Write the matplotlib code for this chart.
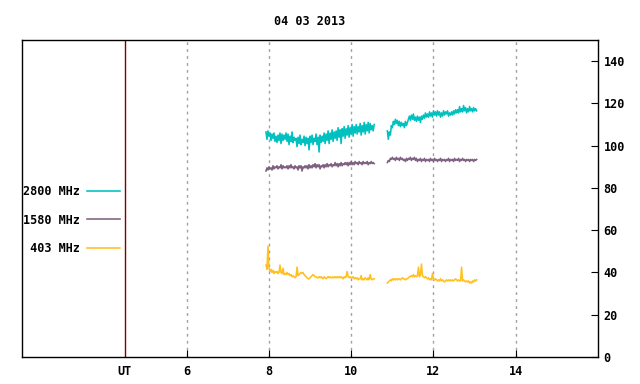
import numpy as np
import matplotlib
matplotlib.use("Agg")
import matplotlib.pyplot as plt

plt.rcParams['font.family'] = ['DejaVu Sans Mono']
plt.rcParams['font.weight'] = 'bold'

title = "04 03 2013"
# time ranges of the two recording blocks (UT hours)
seg1_t = (7.93, 10.56)
seg2_t = (10.88, 13.05)

f2800_a = [106.5, 103.0, 107.0, 104.5, 106.0, 102.5, 105.5, 103.5, 106.0, 102.0,
           104.5, 101.5, 105.0, 102.5, 106.0, 101.0, 105.5, 102.5, 105.0, 103.0,
           106.0, 102.0, 105.5, 100.5, 104.5, 102.0, 106.5, 101.5, 104.0, 102.5,
           103.5, 99.5, 104.0, 101.0, 105.0, 100.5, 103.0, 101.5, 104.5, 100.0,
           104.0, 101.0, 103.5, 98.0, 104.5, 101.5, 105.0, 100.5, 103.5, 102.0,
           105.5, 100.5, 104.0, 97.0, 105.0, 101.5, 104.5, 102.0, 106.0, 101.0,
           105.5, 102.5, 107.0, 101.0, 106.0, 103.0, 107.5, 102.0, 106.5, 103.5,
           107.0, 102.5, 108.5, 104.0, 107.5, 101.0, 108.0, 104.5, 109.0, 103.5,
           108.0, 105.0, 109.5, 104.0, 108.5, 105.5, 110.0, 104.5, 109.0, 106.0,
           110.0, 105.5, 109.0, 106.5, 110.5, 105.0, 109.5, 106.5, 111.0, 105.5,
           110.0, 107.0, 111.0, 106.0, 110.5, 107.5, 109.5, 107.0, 110.0]
f2800_b = [107.0, 103.0, 106.5, 105.0, 109.5, 108.5, 111.5, 110.0, 112.5, 110.5,
           112.0, 109.5, 111.5, 109.0, 111.0, 109.5, 110.5, 108.5, 111.5, 109.5,
           111.0, 112.5, 114.0, 112.0, 114.5, 112.5, 115.0, 112.0, 113.5, 111.5,
           114.0, 112.0, 113.5, 111.0, 114.0, 112.5, 114.5, 113.0, 115.5, 113.5,
           115.0, 113.5, 116.0, 114.0, 115.5, 113.5, 116.5, 114.5, 116.0, 114.0,
           116.5, 114.5, 116.0, 113.5, 115.5, 114.0, 116.5, 114.5, 116.0, 115.0,
           116.5, 114.0, 115.5, 114.5, 116.0, 114.5, 116.5, 115.0, 117.0, 115.5,
           117.0, 115.5, 118.5, 116.0, 117.5, 116.0, 119.0, 116.5, 118.0, 115.5,
           117.5, 116.0, 118.5, 116.5, 117.5, 116.0, 118.0, 116.5, 117.5, 116.5]

f1580_a = [88.0, 89.5, 88.5, 90.0, 89.0, 89.5, 88.5, 90.5, 89.0, 90.0,
           89.5, 90.5, 89.0, 90.0, 89.5, 91.0, 89.0, 90.5, 89.5, 90.0,
           89.5, 90.5, 89.0, 90.5, 89.5, 91.0, 89.5, 90.0, 89.0, 90.5,
           89.5, 90.0, 88.5, 90.5, 89.5, 90.5, 88.0, 90.0, 89.5, 90.5,
           89.5, 90.5, 89.0, 91.0, 89.5, 90.5, 89.5, 91.0, 90.0, 91.5,
           89.5, 91.0, 90.0, 91.0, 89.0, 90.5, 90.0, 91.0, 89.5, 91.0,
           90.0, 91.5, 90.0, 91.0, 90.5, 91.5, 90.0, 91.0, 90.5, 92.0,
           90.5, 91.5, 90.0, 91.5, 90.5, 92.0, 90.5, 91.5, 91.0, 92.0,
           91.0, 92.0, 90.5, 92.0, 91.0, 92.5, 91.0, 92.0, 91.0, 92.5,
           91.5, 92.0, 91.0, 92.5, 91.5, 92.0, 91.0, 92.5, 91.5, 92.0,
           91.5, 92.5, 91.0, 92.0, 91.5, 92.5, 91.5, 92.0, 91.5]
f1580_b = [92.0, 93.0, 92.5, 94.0, 93.5, 94.5, 93.5, 94.0, 93.0, 94.5,
           93.5, 94.0, 93.0, 94.5, 93.5, 94.0, 93.0, 93.5, 92.5, 94.0,
           93.0, 94.0, 93.5, 94.5, 93.0, 94.0, 93.5, 94.5, 93.0, 94.0,
           92.5, 93.5, 93.0, 94.0, 92.5, 93.5, 93.0, 94.0, 92.5, 93.5,
           93.0, 93.5, 92.5, 94.0, 93.0, 93.5, 92.5, 94.0, 93.0, 93.5,
           92.5, 93.5, 93.0, 94.0, 92.5, 93.5, 93.0, 93.5, 92.5, 93.5,
           93.0, 94.0, 92.5, 93.5, 93.0, 93.5, 92.5, 94.0, 93.0, 93.5,
           93.0, 94.0, 92.5, 93.5, 93.0, 94.0, 93.0, 93.5, 92.5, 93.5,
           93.0, 93.5, 92.5, 93.5, 93.0, 93.5, 92.5, 93.5, 93.0, 93.5]

f403_a = [43.5, 41.5, 52.5, 42.0, 40.5, 41.5, 40.0, 41.0, 39.5, 40.5,
          40.0, 40.5, 39.5, 40.0, 43.5, 40.0, 39.5, 42.0, 39.0, 39.5,
          39.0, 40.0, 39.0, 39.5, 38.5, 39.0, 38.0, 38.5, 38.0, 37.5,
          38.0, 42.5, 38.5, 39.0, 39.5, 40.0, 39.5, 40.0, 39.0, 38.5,
          38.0, 37.5, 37.0, 37.0, 37.5, 38.0, 38.5, 39.0, 38.5, 38.0,
          38.0, 37.5, 37.5, 38.0, 37.5, 38.0, 37.5, 37.0, 38.0, 37.5,
          37.0, 37.5, 38.0, 37.5, 38.0, 37.5, 37.5, 38.0, 37.5, 38.0,
          37.5, 38.0, 37.5, 38.0, 37.5, 38.0, 37.5, 37.0, 38.0, 37.5,
          38.0, 40.5, 38.0, 37.5, 38.0, 37.5, 37.5, 38.0, 37.0, 37.5,
          37.0, 37.5, 36.5, 37.0, 37.0, 38.5, 36.5, 37.0, 36.5, 37.5,
          37.0, 36.5, 37.5, 36.5, 39.0, 37.0, 36.5, 37.0, 37.0]
f403_b = [35.0, 35.5, 36.0, 36.5, 36.0, 37.0, 36.5, 37.0, 36.5, 37.0,
          36.5, 37.0, 37.0, 36.5, 37.0, 37.5, 37.0, 37.0, 36.5, 37.0,
          37.0, 37.5, 38.0, 38.0, 38.5, 38.0, 39.0, 38.0, 38.5, 38.0,
          38.5, 42.5, 38.0, 39.0, 44.0, 38.5, 38.0, 37.5, 38.0, 37.5,
          37.0, 37.5, 36.5, 37.0, 36.5, 39.5, 37.0, 36.5, 37.0, 36.5,
          36.0, 36.5, 36.0, 37.0, 36.0, 36.5, 36.0, 35.5, 36.0, 36.5,
          36.0, 36.5, 36.0, 36.5, 36.0, 36.5, 36.0, 36.5, 37.0, 36.5,
          36.0, 36.5, 36.0, 36.0, 42.5, 36.0, 36.5, 36.0, 35.5, 36.0,
          35.5, 36.0, 35.0, 35.5, 35.0, 36.0, 35.5, 36.5, 36.0, 36.5]

series = [("2800 MHz", "#00c0c0", f2800_a, f2800_b),
          ("1580 MHz", "#7f6080", f1580_a, f1580_b),
          (" 403 MHz", "#ffc020", f403_a, f403_b)]

xtick_pos = [4.5, 6, 8, 10, 12, 14]
xtick_lab = ["UT", "6", "8", "10", "12", "14"]
ytick_pos = [0, 20, 40, 60, 80, 100, 120, 140]

fig = plt.figure(figsize=(6.4, 3.84), dpi=100)
ax = fig.add_axes([22/640, 27/384, 576/640, 317/384])

for lab, col, a, b in series:
    ta = np.linspace(seg1_t[0], seg1_t[1], len(a))
    tb = np.linspace(seg2_t[0], seg2_t[1], len(b))
    ax.plot(ta, a, color=col, lw=1.15, label=lab)
    ax.plot(tb, b, color=col, lw=1.15)

# dotted hour grid and the UT marker line
for x in xtick_pos[1:]:
    ax.axvline(x, color="#a0a0a0", lw=1, ls=(0, (2, 3)), zorder=0)
ax.axvline(xtick_pos[0], color="#800000", lw=1)

ax.set_xlim(2, 16)
ax.set_ylim(0, 150)
ax.set_xticks(xtick_pos)
ax.set_xticklabels(xtick_lab)
ax.yaxis.tick_right()
ax.set_yticks(ytick_pos)
ax.tick_params(axis="x", direction="in", length=5, pad=6, labelsize=8.5)
ax.tick_params(axis="y", direction="in", length=5, pad=4, labelsize=8.5)
ax.xaxis.get_major_ticks()[0].tick1line.set_visible(False)
for s in ax.spines.values():
    s.set_linewidth(1)

ax.set_title(title, fontsize=8.5, pad=11, fontweight="bold")

handles, labels = ax.get_legend_handles_labels()
ax.legend(handles, labels,
          loc="center left", bbox_to_anchor=(0.0, 0.432), frameon=False,
          markerfirst=False, handlelength=2.8, handletextpad=0.6,
          labelspacing=1.3, borderaxespad=0, borderpad=0.1,
          prop={"size": 8.5, "weight": "bold", "family": "DejaVu Sans Mono"})

fig.savefig("out.png", dpi=100)
